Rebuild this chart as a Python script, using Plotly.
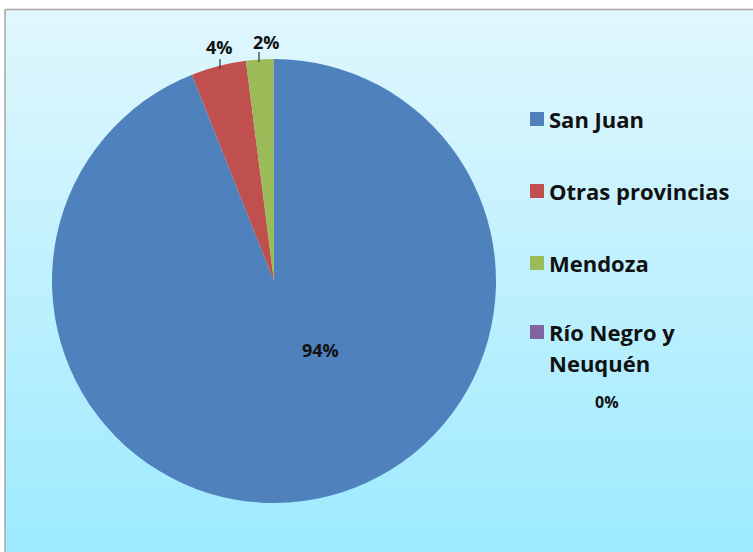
import plotly.graph_objects as go

# ---- data ----
categories = ["San Juan", "Otras provincias", "Mendoza", "Río Negro y<br>Neuquén"]
values = [94.0, 4.0, 2.0, 0.02]
pct_labels = ["94%", "4%", "2%", "0%"]
colors = ["#4F81BD", "#C0504D", "#9BBB59", "#8064A2"]

W, H = 753, 552

def px(x):
    return x / W

def py(y):
    return 1 - y / H

fig = go.Figure()

fig.add_trace(go.Pie(
    labels=categories,
    values=values,
    sort=False,
    direction="clockwise",
    rotation=0,
    marker=dict(colors=colors, line=dict(width=0)),
    textinfo="none",
    hoverinfo="label+percent",
    showlegend=False,
    domain=dict(x=[px(52), px(496)], y=[py(503), py(59)]),
))

shapes = []
# gradient background inside the chart frame
top_c = (224, 247, 253)
bot_c = (158, 234, 255)
n = 70
y_top, y_bot = 10, 552
for i in range(n):
    t = i / (n - 1)
    c = tuple(round(top_c[k] + (bot_c[k] - top_c[k]) * t) for k in range(3))
    ya = y_top + (y_bot - y_top) * i / n
    yb = y_top + (y_bot - y_top) * (i + 1) / n + 1
    shapes.append(dict(type="rect", xref="paper", yref="paper",
                       x0=px(5), x1=1.01, y0=py(min(yb, H)), y1=py(ya),
                       fillcolor="rgb(%d,%d,%d)" % c, line=dict(width=0), layer="below"))
# frame border
shapes.append(dict(type="line", xref="paper", yref="paper", x0=px(5), x1=px(5), y0=py(9.5), y1=-0.01,
                   line=dict(color="#A6A6A6", width=1.5), layer="above"))
shapes.append(dict(type="line", xref="paper", yref="paper", x0=px(5), x1=1.01, y0=py(9.5), y1=py(9.5),
                   line=dict(color="#A6A6A6", width=1.5), layer="above"))

# leader lines for outside labels
shapes.append(dict(type="line", xref="paper", yref="paper", x0=px(220), x1=px(220), y0=py(59), y1=py(69),
                   line=dict(color="#404040", width=1.3)))
shapes.append(dict(type="line", xref="paper", yref="paper", x0=px(259), x1=px(259), y0=py(52), y1=py(62),
                   line=dict(color="#404040", width=1.3)))

FONT = "'Open Sans', 'Noto Sans', sans-serif"

annotations = []
lab_pos = [(320, 350, 18), (219, 47, 18), (266, 42, 18), (607, 402, 16)]
for lab, (x, y, s) in zip(pct_labels, lab_pos):
    annotations.append(dict(text="<b>%s</b>" % lab, x=px(x), y=py(y), xref="paper", yref="paper",
                            showarrow=False, xanchor="center", yanchor="middle",
                            font=dict(family=FONT, size=s, color="#111111")))

# manual legend
leg_y = [119, 191, 263, 332]
line_gap = 31
for i, (cat, col) in enumerate(zip(categories, colors)):
    y = leg_y[i]
    shapes.append(dict(type="rect", xref="paper", yref="paper",
                       x0=px(530), x1=px(544), y0=py(y + 7), y1=py(y - 7),
                       fillcolor=col, line=dict(width=0)))
    for j, part in enumerate(cat.split("<br>")):
        annotations.append(dict(text="<b>%s</b>" % part, x=px(547), y=py(y + j * line_gap),
                                xref="paper", yref="paper",
                                showarrow=False, xanchor="left", yanchor="middle", align="left",
                                font=dict(family=FONT, size=22, color="#111111")))

fig.update_layout(
    width=W, height=H,
    margin=dict(l=0, r=0, t=0, b=0),
    paper_bgcolor="white",
    plot_bgcolor="white",
    shapes=shapes,
    annotations=annotations,
    showlegend=False,
)

fig.write_html("out.html", config={"displayModeBar": False},
               post_script="document.body.style.margin='0';")
